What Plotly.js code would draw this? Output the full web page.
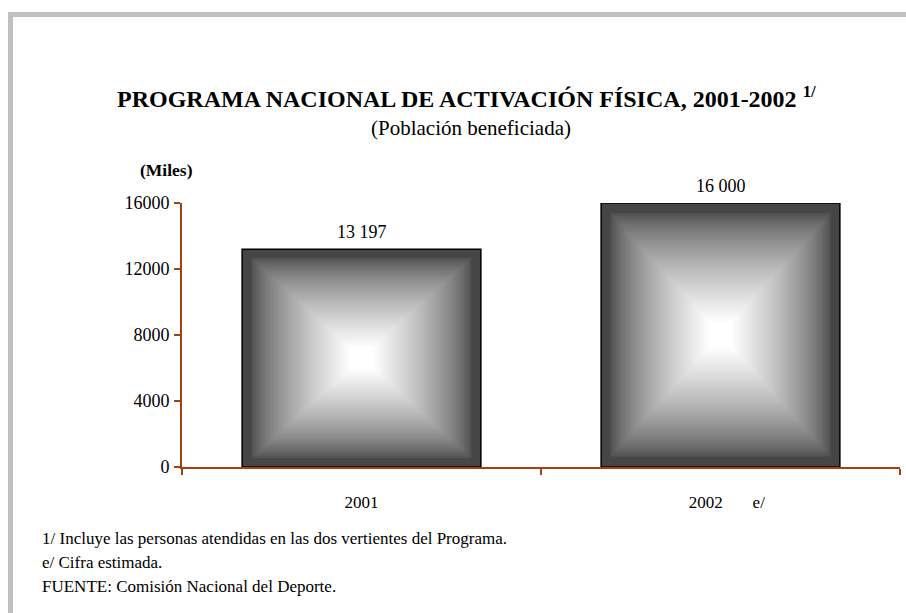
<!DOCTYPE html>
<html>
<head>
<meta charset="utf-8">
<script src="https://cdn.plot.ly/plotly-3.0.1.min.js"></script>
<style>
  html, body { margin: 0; padding: 0; background: #fff; }
  #chart { width: 906px; height: 613px; }
</style>
</head>
<body>
<div id="chart"></div>
<script>
// Programa Nacional de Activación Física, población beneficiada (miles)
var years = ['2001', '\u00a0\u00a0\u00a02002\u00a0\u00a0\u00a0\u00a0\u00a0\u00a0 e/']
var beneficiados = [13197, 16000]
var yTicks = [0, 4000, 8000, 12000, 16000]
var notas = [
    '1/ Incluye las personas atendidas en las dos vertientes del Programa.',
    'e/ Cifra estimada.',
    'FUENTE: Comisión Nacional del Deporte.'
]

function make_chart() {
    var W = 906, H = 613
    var m = { l: 182, r: 6, t: 203, b: 146 }
    var pw = W - m.l - m.r
    var ph = H - m.t - m.b
    // pixel position -> paper coordinates (for text and frame only)
    function px(x) { return (x - m.l) / pw }
    function py(y) { return (H - m.b - y) / ph }

    var axisColor = '#a3410f'
    var serif = 'Liberation Serif'
    var barWidth = 0.665

    // bars drawn as nested shrinking layers to imitate the rectangular gradient fill
    var nLayers = 50
    var traces = []
    for (let k = 0; k < nLayers; k++) {
        var s = 1 - k / nLayers
        var t = Math.min(1, Math.max(0, (0.94 - s) / 0.84))
        var g = Math.round(70 + 185 * Math.pow(t, 0.7))
        var trace = {
            type: 'bar',
            x: years,
            y: beneficiados.map(v => v * s),
            base: beneficiados.map(v => v * (1 - s) / 2),
            width: barWidth * s,
            marker: { color: 'rgb(' + g + ',' + g + ',' + g + ')', line: { width: 0 } },
            hoverinfo: 'skip',
            showlegend: false
        }
        if (k === 0) trace.marker.line = { color: '#000', width: 1.5 }
        traces.push(trace)
    }

    var annotations = [
        {
            text: '<b>PROGRAMA NACIONAL DE ACTIVACIÓN FÍSICA, 2001-2002 <sup>1/</sup></b>',
            x: px(466), y: py(97), font: { family: serif, size: 24, color: '#000' }
        },
        {
            text: '(Población beneficiada)',
            x: px(471), y: py(128), font: { family: serif, size: 21, color: '#000' }
        },
        {
            text: '<b>(Miles)</b>',
            x: px(166), y: py(170), font: { family: serif, size: 17.5, color: '#000' }
        }
    ]
    notas.forEach((n, i) => {
        annotations.push({
            text: n, x: px(40), y: py(538 + i * 24), xanchor: 'left',
            font: { family: serif, size: 17, color: '#000' }
        })
    })
    annotations.forEach(a => {
        a.xref = 'paper'; a.yref = 'paper'; a.showarrow = false
        if (!a.xanchor) a.xanchor = 'center'
        a.yanchor = 'middle'
    })
    // value labels above the bars, placed through the axes (category index)
    beneficiados.forEach((v, i) => {
        annotations.push({
            x: i, y: v, xref: 'x', yref: 'y',
            text: v.toLocaleString('en-US').replace(/,/g, ' '),
            showarrow: false, xanchor: 'center', yanchor: 'bottom', yshift: 5,
            font: { family: serif, size: 18, color: '#000' }
        })
    })

    var layout = {
        width: W,
        height: H,
        margin: m,
        barmode: 'overlay',
        paper_bgcolor: '#fff',
        plot_bgcolor: 'rgba(0,0,0,0)',
        font: { family: serif, color: '#000' },
        xaxis: {
            type: 'category',
            categoryarray: years,
            range: [-0.5, years.length - 0.5],
            showgrid: false,
            zeroline: false,
            showline: true,
            linecolor: axisColor,
            linewidth: 2,
            ticks: 'outside',
            tickson: 'boundaries',
            ticklen: 6,
            tickwidth: 2,
            tickcolor: axisColor,
            tickangle: 0,
            ticklabelstandoff: 19,
            tickfont: { family: serif, size: 17, color: '#000' }
        },
        yaxis: {
            range: [0, 16000],
            tickvals: yTicks,
            tickformat: 'd',
            showgrid: false,
            zeroline: false,
            showline: true,
            linecolor: axisColor,
            linewidth: 2,
            ticks: 'outside',
            ticklen: 6,
            tickwidth: 2,
            tickcolor: axisColor,
            ticklabelstandoff: 1,
            tickfont: { family: serif, size: 18, color: '#000' }
        },
        shapes: [
            // light grey frame at the top and left edges of the page
            { type: 'rect', xref: 'paper', yref: 'paper', x0: px(8), x1: px(W + 5), y0: py(12), y1: py(17),
              fillcolor: '#c0c0c0', line: { width: 0 }, layer: 'below' },
            { type: 'rect', xref: 'paper', yref: 'paper', x0: px(8), x1: px(13), y0: py(12), y1: py(H + 5),
              fillcolor: '#c0c0c0', line: { width: 0 }, layer: 'below' }
        ],
        annotations: annotations
    }

    Plotly.newPlot('chart', traces, layout, { displayModeBar: false })
}

make_chart()
</script>
</body>
</html>
